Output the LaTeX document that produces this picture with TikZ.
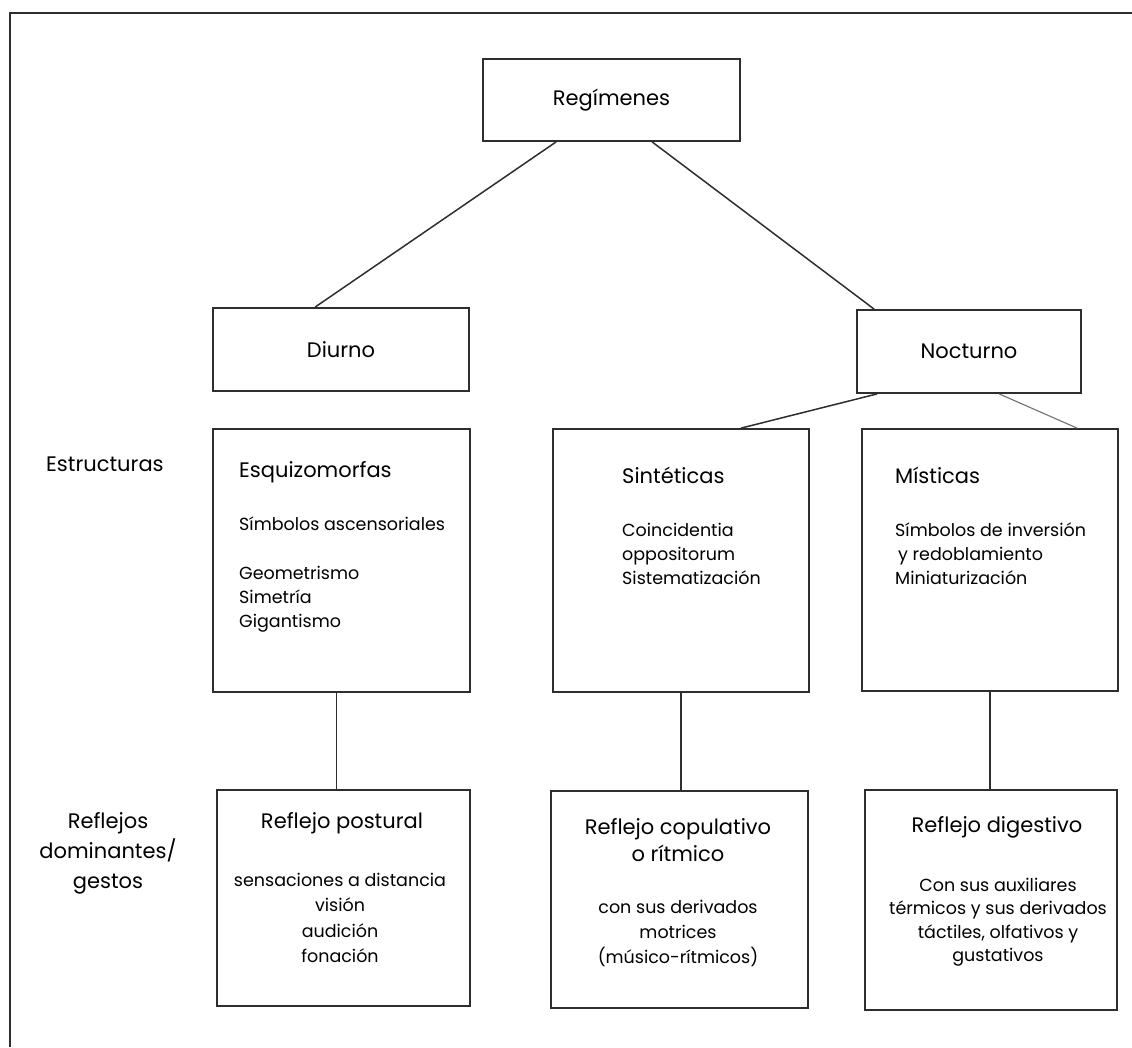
\documentclass[tikz,border=0pt]{standalone}
\usepackage{fontspec}
\setmainfont{Poppins}
\usepackage{tikz}
\definecolor{linea}{HTML}{2E2E2E}
\definecolor{lineaclara}{HTML}{707070}

\begin{document}
\begin{tikzpicture}[x=1pt,y=-1pt]
\tikzstyle{every node}+=[inner sep=0pt]
\tikzstyle{caja}=[draw=linea, line width=1.8pt]
\tikzstyle{union}=[draw=linea, line width=1.5pt]
\tikzstyle{titulo}=[font=\fontsize{21}{30}\selectfont, align=center]
\tikzstyle{cuerpo}=[font=\fontsize{17.5}{24}\selectfont]
\useasboundingbox (0,0) rectangle (1132,1047);
\draw [linea, line width=2.5pt] (1132,13) -- (10,13) -- (10,1047);

\node [caja, titulo, minimum width=257pt, minimum height=82pt] (reg) at (611.5,100) {Regímenes};
\node [caja, titulo, minimum width=256pt, minimum height=83pt] (diu) at (341,349.5) {Diurno};
\node [caja, titulo, minimum width=224pt, minimum height=83pt] (noc) at (969,351.5) {Nocturno};

\node [caja, minimum width=257pt, minimum height=263pt] (esq) at (341.5,560.5) {};
\node [caja, minimum width=256pt, minimum height=263pt] (sin) at (681,560.5) {};
\node [caja, minimum width=256pt, minimum height=262pt] (mis) at (990,560) {};

\node [caja, minimum width=253pt, minimum height=216pt] (pos) at (343.5,898) {};
\node [caja, minimum width=257pt, minimum height=217pt] (cop) at (679.5,899.5) {};
\node [caja, minimum width=252pt, minimum height=220pt] (dig) at (991,900) {};

\draw [union] ([xshift=74pt]reg.south west) -- ([xshift=103pt]diu.north west);
\draw [union] ([xshift=170pt]reg.south west) -- ([xshift=18pt]noc.north west);
\draw [union] ([xshift=21pt]noc.south west) -- ([xshift=189pt]sin.north west);
\draw [draw=lineaclara, line width=1.1pt] ([xshift=143pt]noc.south west) -- ([xshift=216pt]mis.north west);
\draw [union] ([xshift=-5pt]esq.south) -- ([xshift=-5pt]esq.south |- pos.north);
\draw [union] (sin.south) -- (sin.south |- cop.north);
\draw [union] (mis.south) -- (mis.south |- dig.north);

\node [titulo, anchor=west] (estr) at (46,464) {Estructuras};
\node [titulo, align=center] (refl) at (108,853) {Reflejos\\dominantes/\\gestos};

\node [titulo, anchor=west] (esqt) at (239,472) {Esquizomorfas};
\node [cuerpo, anchor=west, align=left] (esqc) at (239,574.5) {Símbolos ascensoriales\\[25pt]Geometrismo\\Simetría\\Gigantismo};
\node [titulo, anchor=west] (sint) at (622,475) {Sintéticas};
\node [cuerpo, anchor=west, align=left] (sinc) at (622,554) {Coincidentia\\oppositorum\\Sistematización};
\node [titulo, anchor=west] (mist) at (895,475) {Místicas};
\node [cuerpo, anchor=west, align=left] (misc) at (895,554) {Símbolos de inversión\\\hspace{3pt}y redoblamiento\\Miniaturización};

\node [titulo] (post) at (342,823) {Reflejo postural};
\node [cuerpo, font=\fontsize{17.5}{25.5}\selectfont, align=center] (posc) at (340,918) {sensaciones a distancia\\visión\\audición\\fonación};
\node [titulo, font=\fontsize{21}{27}\selectfont] (copt) at (678,840) {Reflejo copulativo\\o rítmico};
\node [cuerpo, font=\fontsize{17.5}{25}\selectfont, align=center] (copc) at (678,933) {con sus derivados\\motrices\\(músico-rítmicos)};
\node [titulo] (digt) at (997,827) {Reflejo digestivo};
\node [cuerpo, font=\fontsize{17.5}{23.5}\selectfont, align=center] (digc) at (998,922) {Con sus auxiliares\\térmicos y sus derivados\\táctiles, olfativos y\\gustativos};
\end{tikzpicture}
\end{document}
